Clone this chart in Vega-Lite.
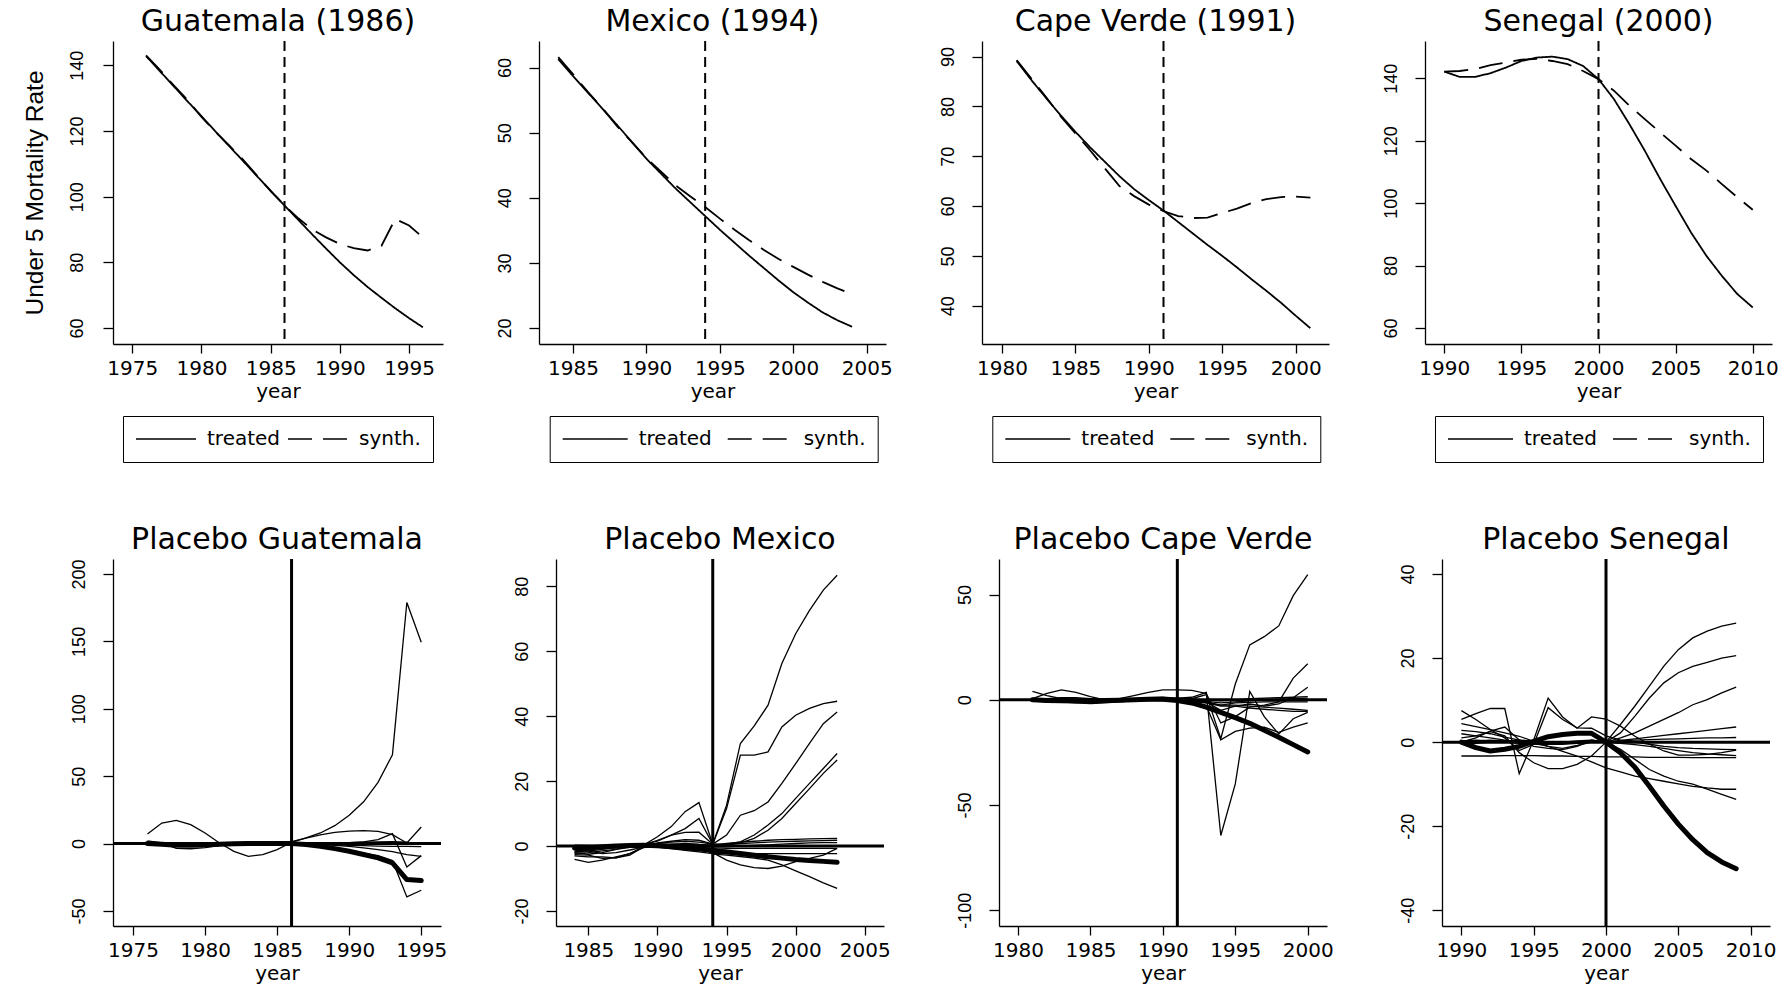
{
  "$schema": "https://vega.github.io/schema/vega-lite/v6.json",
  "background": "white",
  "padding": {"left": 19, "top": 7, "right": 5, "bottom": 2},
  "spacing": 61,
  "config": {
    "font": "DejaVu Sans",
    "view": {"stroke": null},
    "axis": {"grid": false, "domainColor": "black", "domainWidth": 1.3, "tickColor": "black", "tickWidth": 1.3, "labelColor": "black", "titleColor": "black", "titleFontWeight": "normal", "labelFlush": false, "labelOverlap": false},
    "axisX": {"tickSize": 9, "labelPadding": 5.5, "titlePadding": 3, "labelFont": "DejaVu Sans", "labelFontSize": 20, "titleFont": "DejaVu Sans", "titleFontSize": 20},
    "axisY": {"tickSize": 10, "labelPadding": 15, "labelAngle": -90, "labelAlign": "center", "labelBaseline": "bottom", "labelFont": "Liberation Sans", "labelFontSize": 18, "titleFont": "Liberation Sans", "titleFontSize": 24.5, "titlePadding": 21},
    "title": {"font": "DejaVu Sans", "fontSize": 30, "fontWeight": "normal", "color": "black", "offset": 3, "anchor": "middle"},
    "legend": {"orient": "none", "direction": "horizontal", "symbolType": "stroke", "symbolSize": 4225, "symbolStrokeWidth": 1.6, "symbolStrokeColor": "black", "clipHeight": 22, "labelFont": "DejaVu Sans", "labelFontSize": 20, "labelColor": "black", "labelOffset": 10, "columnPadding": 14, "padding": 12, "strokeColor": "black"}
  },
  "datasets": {
    "top_gt": [
      {"series":"treated","year":1976,"value":142.8},{"series":"treated","year":1977,"value":138.2},{"series":"treated","year":1978,"value":133.6},{"series":"treated","year":1979,"value":129.0},{"series":"treated","year":1980,"value":124.5},{"series":"treated","year":1981,"value":119.9},{"series":"treated","year":1982,"value":115.4},{"series":"treated","year":1983,"value":110.9},{"series":"treated","year":1984,"value":106.3},{"series":"treated","year":1985,"value":101.8},{"series":"treated","year":1986,"value":97.3},{"series":"treated","year":1987,"value":92.9},{"series":"treated","year":1988,"value":88.5},{"series":"treated","year":1989,"value":84.2},{"series":"treated","year":1990,"value":80.0},{"series":"treated","year":1991,"value":76.1},{"series":"treated","year":1992,"value":72.5},{"series":"treated","year":1993,"value":69.2},{"series":"treated","year":1994,"value":66.0},{"series":"treated","year":1995,"value":63.0},{"series":"treated","year":1996,"value":60.2},
      {"series":"synth.","year":1976,"value":143.0},{"series":"synth.","year":1977,"value":138.6},{"series":"synth.","year":1978,"value":133.9},{"series":"synth.","year":1979,"value":129.4},{"series":"synth.","year":1980,"value":124.3},{"series":"synth.","year":1981,"value":119.8},{"series":"synth.","year":1982,"value":115.6},{"series":"synth.","year":1983,"value":111.3},{"series":"synth.","year":1984,"value":106.5},{"series":"synth.","year":1985,"value":101.7},{"series":"synth.","year":1986,"value":97.3},{"series":"synth.","year":1987,"value":93.4},{"series":"synth.","year":1988,"value":90.0},{"series":"synth.","year":1989,"value":87.6},{"series":"synth.","year":1990,"value":85.6},{"series":"synth.","year":1991,"value":84.3},{"series":"synth.","year":1992,"value":83.6},{"series":"synth.","year":1993,"value":85.0},{"series":"synth.","year":1994,"value":93.2},{"series":"synth.","year":1995,"value":91.2},{"series":"synth.","year":1996,"value":87.6}
    ],
    "top_mx": [
      {"series":"treated","year":1984,"value":61.3},{"series":"treated","year":1985,"value":58.7},{"series":"treated","year":1986,"value":56.2},{"series":"treated","year":1987,"value":53.7},{"series":"treated","year":1988,"value":51.2},{"series":"treated","year":1989,"value":48.6},{"series":"treated","year":1990,"value":46.0},{"series":"treated","year":1991,"value":43.7},{"series":"treated","year":1992,"value":41.4},{"series":"treated","year":1993,"value":39.3},{"series":"treated","year":1994,"value":37.2},{"series":"treated","year":1995,"value":35.1},{"series":"treated","year":1996,"value":33.1},{"series":"treated","year":1997,"value":31.1},{"series":"treated","year":1998,"value":29.2},{"series":"treated","year":1999,"value":27.3},{"series":"treated","year":2000,"value":25.5},{"series":"treated","year":2001,"value":23.9},{"series":"treated","year":2002,"value":22.4},{"series":"treated","year":2003,"value":21.2},{"series":"treated","year":2004,"value":20.2},
      {"series":"synth.","year":1984,"value":61.6},{"series":"synth.","year":1985,"value":59.0},{"series":"synth.","year":1986,"value":56.3},{"series":"synth.","year":1987,"value":53.8},{"series":"synth.","year":1988,"value":51.0},{"series":"synth.","year":1989,"value":48.6},{"series":"synth.","year":1990,"value":46.1},{"series":"synth.","year":1991,"value":44.0},{"series":"synth.","year":1992,"value":41.9},{"series":"synth.","year":1993,"value":40.2},{"series":"synth.","year":1994,"value":38.6},{"series":"synth.","year":1995,"value":36.8},{"series":"synth.","year":1996,"value":35.1},{"series":"synth.","year":1997,"value":33.5},{"series":"synth.","year":1998,"value":32.0},{"series":"synth.","year":1999,"value":30.6},{"series":"synth.","year":2000,"value":29.4},{"series":"synth.","year":2001,"value":28.2},{"series":"synth.","year":2002,"value":27.1},{"series":"synth.","year":2003,"value":26.1},{"series":"synth.","year":2004,"value":25.2}
    ],
    "top_cv": [
      {"series":"treated","year":1981,"value":89.1},{"series":"treated","year":1982,"value":85.3},{"series":"treated","year":1983,"value":81.7},{"series":"treated","year":1984,"value":78.2},{"series":"treated","year":1985,"value":74.9},{"series":"treated","year":1986,"value":71.8},{"series":"treated","year":1987,"value":68.9},{"series":"treated","year":1988,"value":66.0},{"series":"treated","year":1989,"value":63.4},{"series":"treated","year":1990,"value":61.2},{"series":"treated","year":1991,"value":59.1},{"series":"treated","year":1992,"value":56.8},{"series":"treated","year":1993,"value":54.5},{"series":"treated","year":1994,"value":52.2},{"series":"treated","year":1995,"value":50.0},{"series":"treated","year":1996,"value":47.7},{"series":"treated","year":1997,"value":45.3},{"series":"treated","year":1998,"value":43.0},{"series":"treated","year":1999,"value":40.6},{"series":"treated","year":2000,"value":38.0},{"series":"treated","year":2001,"value":35.5},
      {"series":"synth.","year":1981,"value":89.3},{"series":"synth.","year":1982,"value":85.6},{"series":"synth.","year":1983,"value":81.9},{"series":"synth.","year":1984,"value":78.0},{"series":"synth.","year":1985,"value":74.6},{"series":"synth.","year":1986,"value":71.2},{"series":"synth.","year":1987,"value":67.6},{"series":"synth.","year":1988,"value":64.0},{"series":"synth.","year":1989,"value":62.0},{"series":"synth.","year":1990,"value":60.3},{"series":"synth.","year":1991,"value":59.0},{"series":"synth.","year":1992,"value":58.0},{"series":"synth.","year":1993,"value":57.6},{"series":"synth.","year":1994,"value":57.7},{"series":"synth.","year":1995,"value":58.6},{"series":"synth.","year":1996,"value":59.5},{"series":"synth.","year":1997,"value":60.6},{"series":"synth.","year":1998,"value":61.4},{"series":"synth.","year":1999,"value":61.8},{"series":"synth.","year":2000,"value":61.9},{"series":"synth.","year":2001,"value":61.7}
    ],
    "top_sn": [
      {"series":"treated","year":1990,"value":142.1},{"series":"treated","year":1991,"value":140.4},{"series":"treated","year":1992,"value":140.4},{"series":"treated","year":1993,"value":141.6},{"series":"treated","year":1994,"value":143.4},{"series":"treated","year":1995,"value":145.5},{"series":"treated","year":1996,"value":146.6},{"series":"treated","year":1997,"value":146.9},{"series":"treated","year":1998,"value":146.1},{"series":"treated","year":1999,"value":143.9},{"series":"treated","year":2000,"value":139.7},{"series":"treated","year":2001,"value":133.3},{"series":"treated","year":2002,"value":125.3},{"series":"treated","year":2003,"value":116.8},{"series":"treated","year":2004,"value":107.7},{"series":"treated","year":2005,"value":99.1},{"series":"treated","year":2006,"value":90.6},{"series":"treated","year":2007,"value":83.1},{"series":"treated","year":2008,"value":76.7},{"series":"treated","year":2009,"value":70.9},{"series":"treated","year":2010,"value":66.6},
      {"series":"synth.","year":1990,"value":142.1},{"series":"synth.","year":1991,"value":142.3},{"series":"synth.","year":1992,"value":142.9},{"series":"synth.","year":1993,"value":144.2},{"series":"synth.","year":1994,"value":145.0},{"series":"synth.","year":1995,"value":145.9},{"series":"synth.","year":1996,"value":146.2},{"series":"synth.","year":1997,"value":145.5},{"series":"synth.","year":1998,"value":144.5},{"series":"synth.","year":1999,"value":142.3},{"series":"synth.","year":2000,"value":139.7},{"series":"synth.","year":2001,"value":136.0},{"series":"synth.","year":2002,"value":131.2},{"series":"synth.","year":2003,"value":126.9},{"series":"synth.","year":2004,"value":122.6},{"series":"synth.","year":2005,"value":118.4},{"series":"synth.","year":2006,"value":114.1},{"series":"synth.","year":2007,"value":110.4},{"series":"synth.","year":2008,"value":106.1},{"series":"synth.","year":2009,"value":101.9},{"series":"synth.","year":2010,"value":97.9}
    ],
    "pl_gt": [
      {"unit":"T","year":1976,"gap":0},{"unit":"T","year":1977,"gap":-0.5},{"unit":"T","year":1978,"gap":-1.2},{"unit":"T","year":1979,"gap":-1.2},{"unit":"T","year":1980,"gap":-0.8},{"unit":"T","year":1981,"gap":-0.4},{"unit":"T","year":1982,"gap":-0.1},{"unit":"T","year":1983,"gap":0},{"unit":"T","year":1984,"gap":0},{"unit":"T","year":1985,"gap":0},{"unit":"T","year":1986,"gap":0},{"unit":"T","year":1987,"gap":-0.7},{"unit":"T","year":1988,"gap":-2.0},{"unit":"T","year":1989,"gap":-3.7},{"unit":"T","year":1990,"gap":-5.7},{"unit":"T","year":1991,"gap":-8.1},{"unit":"T","year":1992,"gap":-10.6},{"unit":"T","year":1993,"gap":-14.3},{"unit":"T","year":1994,"gap":-26.7},{"unit":"T","year":1995,"gap":-27.4},
      {"unit":"a","year":1976,"gap":7.2},{"unit":"a","year":1977,"gap":15.3},{"unit":"a","year":1978,"gap":17.3},{"unit":"a","year":1979,"gap":14.1},{"unit":"a","year":1980,"gap":7.9},{"unit":"a","year":1981,"gap":0.5},{"unit":"a","year":1982,"gap":-5.7},{"unit":"a","year":1983,"gap":-9.4},{"unit":"a","year":1984,"gap":-8.1},{"unit":"a","year":1985,"gap":-4.4},{"unit":"a","year":1986,"gap":1.0},{"unit":"a","year":1987,"gap":4.2},{"unit":"a","year":1988,"gap":7.9},{"unit":"a","year":1989,"gap":13.3},{"unit":"a","year":1990,"gap":21.0},{"unit":"a","year":1991,"gap":31.0},{"unit":"a","year":1992,"gap":45.4},{"unit":"a","year":1993,"gap":65.9},{"unit":"a","year":1994,"gap":178.8},{"unit":"a","year":1995,"gap":149.4},
      {"unit":"b","year":1976,"gap":2.0},{"unit":"b","year":1977,"gap":0.5},{"unit":"b","year":1978,"gap":-3.5},{"unit":"b","year":1979,"gap":-3.8},{"unit":"b","year":1980,"gap":-3.0},{"unit":"b","year":1981,"gap":-1.5},{"unit":"b","year":1982,"gap":-0.5},{"unit":"b","year":1983,"gap":0},{"unit":"b","year":1984,"gap":0.3},{"unit":"b","year":1985,"gap":0.5},{"unit":"b","year":1986,"gap":1.5},{"unit":"b","year":1987,"gap":4.0},{"unit":"b","year":1988,"gap":6.5},{"unit":"b","year":1989,"gap":8.4},{"unit":"b","year":1990,"gap":9.3},{"unit":"b","year":1991,"gap":9.6},{"unit":"b","year":1992,"gap":9.1},{"unit":"b","year":1993,"gap":6.7},{"unit":"b","year":1994,"gap":0.5},{"unit":"b","year":1995,"gap":12.3},
      {"unit":"c","year":1976,"gap":1.0},{"unit":"c","year":1977,"gap":0.3},{"unit":"c","year":1978,"gap":-0.5},{"unit":"c","year":1979,"gap":-0.8},{"unit":"c","year":1980,"gap":-0.5},{"unit":"c","year":1981,"gap":0},{"unit":"c","year":1982,"gap":0.3},{"unit":"c","year":1983,"gap":0.5},{"unit":"c","year":1984,"gap":0.5},{"unit":"c","year":1985,"gap":0.3},{"unit":"c","year":1986,"gap":0.2},{"unit":"c","year":1987,"gap":0.3},{"unit":"c","year":1988,"gap":0.5},{"unit":"c","year":1989,"gap":0.5},{"unit":"c","year":1990,"gap":0.7},{"unit":"c","year":1991,"gap":1.3},{"unit":"c","year":1992,"gap":3.0},{"unit":"c","year":1993,"gap":7.4},{"unit":"c","year":1994,"gap":-17.3},{"unit":"c","year":1995,"gap":-8.9},
      {"unit":"d","year":1976,"gap":-0.5},{"unit":"d","year":1977,"gap":-1.0},{"unit":"d","year":1978,"gap":-1.5},{"unit":"d","year":1979,"gap":-1.0},{"unit":"d","year":1980,"gap":-0.5},{"unit":"d","year":1981,"gap":0},{"unit":"d","year":1982,"gap":0.2},{"unit":"d","year":1983,"gap":0.3},{"unit":"d","year":1984,"gap":0.2},{"unit":"d","year":1985,"gap":0},{"unit":"d","year":1986,"gap":-0.2},{"unit":"d","year":1987,"gap":-0.8},{"unit":"d","year":1988,"gap":-1.8},{"unit":"d","year":1989,"gap":-3.5},{"unit":"d","year":1990,"gap":-5.0},{"unit":"d","year":1991,"gap":-7.0},{"unit":"d","year":1992,"gap":-9.0},{"unit":"d","year":1993,"gap":-12.5},{"unit":"d","year":1994,"gap":-39.5},{"unit":"d","year":1995,"gap":-34.6},
      {"unit":"e","year":1976,"gap":0.5},{"unit":"e","year":1977,"gap":0},{"unit":"e","year":1978,"gap":-0.5},{"unit":"e","year":1979,"gap":-0.5},{"unit":"e","year":1980,"gap":-0.3},{"unit":"e","year":1981,"gap":0},{"unit":"e","year":1982,"gap":0.3},{"unit":"e","year":1983,"gap":0.5},{"unit":"e","year":1984,"gap":0.5},{"unit":"e","year":1985,"gap":0.3},{"unit":"e","year":1986,"gap":0.2},{"unit":"e","year":1987,"gap":0},{"unit":"e","year":1988,"gap":-0.5},{"unit":"e","year":1989,"gap":-1.2},{"unit":"e","year":1990,"gap":-2.0},{"unit":"e","year":1991,"gap":-3.2},{"unit":"e","year":1992,"gap":-4.4},{"unit":"e","year":1993,"gap":-6.0},{"unit":"e","year":1994,"gap":-8.1},{"unit":"e","year":1995,"gap":-9.4},
      {"unit":"f","year":1976,"gap":0},{"unit":"f","year":1977,"gap":0},{"unit":"f","year":1978,"gap":0.3},{"unit":"f","year":1979,"gap":0.5},{"unit":"f","year":1980,"gap":0.5},{"unit":"f","year":1981,"gap":0.3},{"unit":"f","year":1982,"gap":0},{"unit":"f","year":1983,"gap":-0.3},{"unit":"f","year":1984,"gap":-0.5},{"unit":"f","year":1985,"gap":-0.5},{"unit":"f","year":1986,"gap":-0.3},{"unit":"f","year":1987,"gap":0},{"unit":"f","year":1988,"gap":0.3},{"unit":"f","year":1989,"gap":0.5},{"unit":"f","year":1990,"gap":0.8},{"unit":"f","year":1991,"gap":1.0},{"unit":"f","year":1992,"gap":1.3},{"unit":"f","year":1993,"gap":1.5},{"unit":"f","year":1994,"gap":1.0},{"unit":"f","year":1995,"gap":-0.5},
      {"unit":"g","year":1976,"gap":-0.3},{"unit":"g","year":1977,"gap":-0.5},{"unit":"g","year":1978,"gap":-0.3},{"unit":"g","year":1979,"gap":0},{"unit":"g","year":1980,"gap":0.3},{"unit":"g","year":1981,"gap":0.5},{"unit":"g","year":1982,"gap":0.5},{"unit":"g","year":1983,"gap":0.3},{"unit":"g","year":1984,"gap":0},{"unit":"g","year":1985,"gap":-0.2},{"unit":"g","year":1986,"gap":-0.3},{"unit":"g","year":1987,"gap":-0.5},{"unit":"g","year":1988,"gap":-0.8},{"unit":"g","year":1989,"gap":-1.0},{"unit":"g","year":1990,"gap":-1.2},{"unit":"g","year":1991,"gap":-1.5},{"unit":"g","year":1992,"gap":-1.8},{"unit":"g","year":1993,"gap":-2.0},{"unit":"g","year":1994,"gap":-2.0},{"unit":"g","year":1995,"gap":-2.2}
    ],
    "pl_mx": [
      {"unit":"T","year":1984,"gap":-0.6},{"unit":"T","year":1985,"gap":-0.4},{"unit":"T","year":1986,"gap":-0.2},{"unit":"T","year":1987,"gap":0},{"unit":"T","year":1988,"gap":0.2},{"unit":"T","year":1989,"gap":0.3},{"unit":"T","year":1990,"gap":0.1},{"unit":"T","year":1991,"gap":-0.2},{"unit":"T","year":1992,"gap":-0.5},{"unit":"T","year":1993,"gap":-0.9},{"unit":"T","year":1994,"gap":-1.3},{"unit":"T","year":1995,"gap":-1.8},{"unit":"T","year":1996,"gap":-2.3},{"unit":"T","year":1997,"gap":-2.8},{"unit":"T","year":1998,"gap":-3.3},{"unit":"T","year":1999,"gap":-3.7},{"unit":"T","year":2000,"gap":-4.1},{"unit":"T","year":2001,"gap":-4.4},{"unit":"T","year":2002,"gap":-4.7},{"unit":"T","year":2003,"gap":-5.0},
      {"unit":"a","year":1984,"gap":-1.0},{"unit":"a","year":1985,"gap":-1.5},{"unit":"a","year":1986,"gap":-1.0},{"unit":"a","year":1987,"gap":-0.5},{"unit":"a","year":1988,"gap":0},{"unit":"a","year":1989,"gap":0.3},{"unit":"a","year":1990,"gap":2.9},{"unit":"a","year":1991,"gap":6.0},{"unit":"a","year":1992,"gap":10.6},{"unit":"a","year":1993,"gap":13.4},{"unit":"a","year":1994,"gap":0.6},{"unit":"a","year":1995,"gap":12.6},{"unit":"a","year":1996,"gap":31.6},{"unit":"a","year":1997,"gap":37.0},{"unit":"a","year":1998,"gap":43.4},{"unit":"a","year":1999,"gap":56.2},{"unit":"a","year":2000,"gap":65.4},{"unit":"a","year":2001,"gap":72.6},{"unit":"a","year":2002,"gap":78.8},{"unit":"a","year":2003,"gap":83.4},
      {"unit":"b","year":1984,"gap":-2.0},{"unit":"b","year":1985,"gap":-2.5},{"unit":"b","year":1986,"gap":-2.0},{"unit":"b","year":1987,"gap":-1.0},{"unit":"b","year":1988,"gap":0},{"unit":"b","year":1989,"gap":0.3},{"unit":"b","year":1990,"gap":1.8},{"unit":"b","year":1991,"gap":3.4},{"unit":"b","year":1992,"gap":5.4},{"unit":"b","year":1993,"gap":8.5},{"unit":"b","year":1994,"gap":0.6},{"unit":"b","year":1995,"gap":11.6},{"unit":"b","year":1996,"gap":28.0},{"unit":"b","year":1997,"gap":28.0},{"unit":"b","year":1998,"gap":29.0},{"unit":"b","year":1999,"gap":36.7},{"unit":"b","year":2000,"gap":40.3},{"unit":"b","year":2001,"gap":42.4},{"unit":"b","year":2002,"gap":43.9},{"unit":"b","year":2003,"gap":44.6},
      {"unit":"c","year":1984,"gap":-1.5},{"unit":"c","year":1985,"gap":-1.0},{"unit":"c","year":1986,"gap":-0.5},{"unit":"c","year":1987,"gap":0},{"unit":"c","year":1988,"gap":0.3},{"unit":"c","year":1989,"gap":0.5},{"unit":"c","year":1990,"gap":1.5},{"unit":"c","year":1991,"gap":3.4},{"unit":"c","year":1992,"gap":4.2},{"unit":"c","year":1993,"gap":4.3},{"unit":"c","year":1994,"gap":0.6},{"unit":"c","year":1995,"gap":3.4},{"unit":"c","year":1996,"gap":9.5},{"unit":"c","year":1997,"gap":10.9},{"unit":"c","year":1998,"gap":13.6},{"unit":"c","year":1999,"gap":19.3},{"unit":"c","year":2000,"gap":25.4},{"unit":"c","year":2001,"gap":31.6},{"unit":"c","year":2002,"gap":37.7},{"unit":"c","year":2003,"gap":41.3},
      {"unit":"d","year":1984,"gap":-2.6},{"unit":"d","year":1985,"gap":-2.8},{"unit":"d","year":1986,"gap":-3.8},{"unit":"d","year":1987,"gap":-3.6},{"unit":"d","year":1988,"gap":-2.8},{"unit":"d","year":1989,"gap":-0.2},{"unit":"d","year":1990,"gap":1.0},{"unit":"d","year":1991,"gap":1.5},{"unit":"d","year":1992,"gap":2.0},{"unit":"d","year":1993,"gap":1.8},{"unit":"d","year":1994,"gap":0.6},{"unit":"d","year":1995,"gap":0.6},{"unit":"d","year":1996,"gap":1.3},{"unit":"d","year":1997,"gap":3.4},{"unit":"d","year":1998,"gap":6.5},{"unit":"d","year":1999,"gap":10.0},{"unit":"d","year":2000,"gap":14.7},{"unit":"d","year":2001,"gap":19.3},{"unit":"d","year":2002,"gap":23.9},{"unit":"d","year":2003,"gap":28.5},
      {"unit":"e","year":1984,"gap":-4.1},{"unit":"e","year":1985,"gap":-5.0},{"unit":"e","year":1986,"gap":-4.3},{"unit":"e","year":1987,"gap":-3.3},{"unit":"e","year":1988,"gap":-2.3},{"unit":"e","year":1989,"gap":-0.2},{"unit":"e","year":1990,"gap":0.8},{"unit":"e","year":1991,"gap":1.2},{"unit":"e","year":1992,"gap":1.5},{"unit":"e","year":1993,"gap":1.2},{"unit":"e","year":1994,"gap":0.6},{"unit":"e","year":1995,"gap":0.3},{"unit":"e","year":1996,"gap":1.0},{"unit":"e","year":1997,"gap":2.4},{"unit":"e","year":1998,"gap":4.9},{"unit":"e","year":1999,"gap":8.5},{"unit":"e","year":2000,"gap":13.1},{"unit":"e","year":2001,"gap":17.7},{"unit":"e","year":2002,"gap":22.4},{"unit":"e","year":2003,"gap":26.5},
      {"unit":"f","year":1984,"gap":-1.7},{"unit":"f","year":1985,"gap":-1.5},{"unit":"f","year":1986,"gap":-2.3},{"unit":"f","year":1987,"gap":-2.0},{"unit":"f","year":1988,"gap":-1.2},{"unit":"f","year":1989,"gap":-0.3},{"unit":"f","year":1990,"gap":0.5},{"unit":"f","year":1991,"gap":0.5},{"unit":"f","year":1992,"gap":0.3},{"unit":"f","year":1993,"gap":0},{"unit":"f","year":1994,"gap":-2.5},{"unit":"f","year":1995,"gap":-2.8},{"unit":"f","year":1996,"gap":-3.2},{"unit":"f","year":1997,"gap":-3.7},{"unit":"f","year":1998,"gap":-4.3},{"unit":"f","year":1999,"gap":-5.8},{"unit":"f","year":2000,"gap":-7.6},{"unit":"f","year":2001,"gap":-9.4},{"unit":"f","year":2002,"gap":-11.3},{"unit":"f","year":2003,"gap":-13.0},
      {"unit":"g","year":1984,"gap":-3.0},{"unit":"g","year":1985,"gap":-3.3},{"unit":"g","year":1986,"gap":-3.3},{"unit":"g","year":1987,"gap":-3.6},{"unit":"g","year":1988,"gap":-2.3},{"unit":"g","year":1989,"gap":-0.5},{"unit":"g","year":1990,"gap":0},{"unit":"g","year":1991,"gap":0.3},{"unit":"g","year":1992,"gap":0.5},{"unit":"g","year":1993,"gap":0.2},{"unit":"g","year":1994,"gap":-2.0},{"unit":"g","year":1995,"gap":-4.3},{"unit":"g","year":1996,"gap":-5.8},{"unit":"g","year":1997,"gap":-6.6},{"unit":"g","year":1998,"gap":-6.9},{"unit":"g","year":1999,"gap":-6.2},{"unit":"g","year":2000,"gap":-4.8},{"unit":"g","year":2001,"gap":-3.8},{"unit":"g","year":2002,"gap":-2.8},{"unit":"g","year":2003,"gap":-0.7},
      {"unit":"h","year":1984,"gap":0},{"unit":"h","year":1985,"gap":-0.3},{"unit":"h","year":1986,"gap":-0.5},{"unit":"h","year":1987,"gap":-0.3},{"unit":"h","year":1988,"gap":0},{"unit":"h","year":1989,"gap":0.2},{"unit":"h","year":1990,"gap":0.3},{"unit":"h","year":1991,"gap":0.5},{"unit":"h","year":1992,"gap":0.8},{"unit":"h","year":1993,"gap":0.5},{"unit":"h","year":1994,"gap":0.3},{"unit":"h","year":1995,"gap":0.8},{"unit":"h","year":1996,"gap":1.2},{"unit":"h","year":1997,"gap":1.5},{"unit":"h","year":1998,"gap":1.8},{"unit":"h","year":1999,"gap":2.0},{"unit":"h","year":2000,"gap":2.1},{"unit":"h","year":2001,"gap":2.2},{"unit":"h","year":2002,"gap":2.3},{"unit":"h","year":2003,"gap":2.4},
      {"unit":"i","year":1984,"gap":-0.5},{"unit":"i","year":1985,"gap":-0.8},{"unit":"i","year":1986,"gap":-0.5},{"unit":"i","year":1987,"gap":0},{"unit":"i","year":1988,"gap":0.3},{"unit":"i","year":1989,"gap":0.2},{"unit":"i","year":1990,"gap":0.5},{"unit":"i","year":1991,"gap":0.6},{"unit":"i","year":1992,"gap":0.6},{"unit":"i","year":1993,"gap":0.5},{"unit":"i","year":1994,"gap":0.2},{"unit":"i","year":1995,"gap":0.5},{"unit":"i","year":1996,"gap":0.8},{"unit":"i","year":1997,"gap":1.0},{"unit":"i","year":1998,"gap":1.2},{"unit":"i","year":1999,"gap":1.4},{"unit":"i","year":2000,"gap":1.5},{"unit":"i","year":2001,"gap":1.6},{"unit":"i","year":2002,"gap":1.7},{"unit":"i","year":2003,"gap":1.8},
      {"unit":"j","year":1984,"gap":-0.8},{"unit":"j","year":1985,"gap":-1.0},{"unit":"j","year":1986,"gap":-0.8},{"unit":"j","year":1987,"gap":-0.5},{"unit":"j","year":1988,"gap":0},{"unit":"j","year":1989,"gap":0.3},{"unit":"j","year":1990,"gap":0},{"unit":"j","year":1991,"gap":-0.3},{"unit":"j","year":1992,"gap":-0.5},{"unit":"j","year":1993,"gap":-0.8},{"unit":"j","year":1994,"gap":-1.0},{"unit":"j","year":1995,"gap":-0.8},{"unit":"j","year":1996,"gap":-0.7},{"unit":"j","year":1997,"gap":-0.7},{"unit":"j","year":1998,"gap":-0.7},{"unit":"j","year":1999,"gap":-0.7},{"unit":"j","year":2000,"gap":-0.7},{"unit":"j","year":2001,"gap":-0.7},{"unit":"j","year":2002,"gap":-0.7},{"unit":"j","year":2003,"gap":-0.7},
      {"unit":"k","year":1984,"gap":-2.2},{"unit":"k","year":1985,"gap":-2.0},{"unit":"k","year":1986,"gap":-1.5},{"unit":"k","year":1987,"gap":-1.0},{"unit":"k","year":1988,"gap":-0.4},{"unit":"k","year":1989,"gap":0.1},{"unit":"k","year":1990,"gap":-0.3},{"unit":"k","year":1991,"gap":-0.8},{"unit":"k","year":1992,"gap":-1.3},{"unit":"k","year":1993,"gap":-1.8},{"unit":"k","year":1994,"gap":-2.3},{"unit":"k","year":1995,"gap":-2.3},{"unit":"k","year":1996,"gap":-2.3},{"unit":"k","year":1997,"gap":-2.3},{"unit":"k","year":1998,"gap":-2.3},{"unit":"k","year":1999,"gap":-2.3},{"unit":"k","year":2000,"gap":-2.3},{"unit":"k","year":2001,"gap":-2.3},{"unit":"k","year":2002,"gap":-2.3},{"unit":"k","year":2003,"gap":-2.3},
      {"unit":"l","year":1984,"gap":0.3},{"unit":"l","year":1985,"gap":0.2},{"unit":"l","year":1986,"gap":0},{"unit":"l","year":1987,"gap":0},{"unit":"l","year":1988,"gap":0.2},{"unit":"l","year":1989,"gap":0.3},{"unit":"l","year":1990,"gap":0.2},{"unit":"l","year":1991,"gap":0.1},{"unit":"l","year":1992,"gap":0},{"unit":"l","year":1993,"gap":-0.2},{"unit":"l","year":1994,"gap":-0.3},{"unit":"l","year":1995,"gap":-0.2},{"unit":"l","year":1996,"gap":0},{"unit":"l","year":1997,"gap":0.2},{"unit":"l","year":1998,"gap":0.4},{"unit":"l","year":1999,"gap":0.6},{"unit":"l","year":2000,"gap":0.8},{"unit":"l","year":2001,"gap":1.0},{"unit":"l","year":2002,"gap":1.1},{"unit":"l","year":2003,"gap":1.1}
    ],
    "pl_cv": [
      {"unit":"T","year":1981,"gap":0},{"unit":"T","year":1982,"gap":-0.3},{"unit":"T","year":1983,"gap":-0.5},{"unit":"T","year":1984,"gap":-0.6},{"unit":"T","year":1985,"gap":-0.6},{"unit":"T","year":1986,"gap":-0.4},{"unit":"T","year":1987,"gap":-0.2},{"unit":"T","year":1988,"gap":0},{"unit":"T","year":1989,"gap":0.2},{"unit":"T","year":1990,"gap":0.3},{"unit":"T","year":1991,"gap":-0.3},{"unit":"T","year":1992,"gap":-1.5},{"unit":"T","year":1993,"gap":-3.5},{"unit":"T","year":1994,"gap":-6.0},{"unit":"T","year":1995,"gap":-8.5},{"unit":"T","year":1996,"gap":-11.2},{"unit":"T","year":1997,"gap":-14.5},{"unit":"T","year":1998,"gap":-17.8},{"unit":"T","year":1999,"gap":-21.3},{"unit":"T","year":2000,"gap":-24.8},
      {"unit":"a","year":1981,"gap":4.0},{"unit":"a","year":1982,"gap":2.0},{"unit":"a","year":1983,"gap":0.5},{"unit":"a","year":1984,"gap":-0.5},{"unit":"a","year":1985,"gap":-1.0},{"unit":"a","year":1986,"gap":-0.5},{"unit":"a","year":1987,"gap":0},{"unit":"a","year":1988,"gap":0.5},{"unit":"a","year":1989,"gap":1.0},{"unit":"a","year":1990,"gap":1.2},{"unit":"a","year":1991,"gap":0.8},{"unit":"a","year":1992,"gap":0.5},{"unit":"a","year":1993,"gap":2.5},{"unit":"a","year":1994,"gap":-18.5},{"unit":"a","year":1995,"gap":7.5},{"unit":"a","year":1996,"gap":26.1},{"unit":"a","year":1997,"gap":30.0},{"unit":"a","year":1998,"gap":35.1},{"unit":"a","year":1999,"gap":49.5},{"unit":"a","year":2000,"gap":59.5},
      {"unit":"b","year":1981,"gap":0},{"unit":"b","year":1982,"gap":-0.5},{"unit":"b","year":1983,"gap":-1.0},{"unit":"b","year":1984,"gap":-1.5},{"unit":"b","year":1985,"gap":-1.8},{"unit":"b","year":1986,"gap":-1.5},{"unit":"b","year":1987,"gap":-1.0},{"unit":"b","year":1988,"gap":-0.5},{"unit":"b","year":1989,"gap":0},{"unit":"b","year":1990,"gap":0.5},{"unit":"b","year":1991,"gap":0.8},{"unit":"b","year":1992,"gap":1.2},{"unit":"b","year":1993,"gap":3.5},{"unit":"b","year":1994,"gap":-64.5},{"unit":"b","year":1995,"gap":-40.0},{"unit":"b","year":1996,"gap":4.0},{"unit":"b","year":1997,"gap":-8.0},{"unit":"b","year":1998,"gap":-16.3},{"unit":"b","year":1999,"gap":-9.0},{"unit":"b","year":2000,"gap":-6.0},
      {"unit":"c","year":1981,"gap":0.5},{"unit":"c","year":1982,"gap":3.0},{"unit":"c","year":1983,"gap":4.7},{"unit":"c","year":1984,"gap":3.5},{"unit":"c","year":1985,"gap":1.5},{"unit":"c","year":1986,"gap":0},{"unit":"c","year":1987,"gap":0.5},{"unit":"c","year":1988,"gap":2.0},{"unit":"c","year":1989,"gap":3.5},{"unit":"c","year":1990,"gap":4.7},{"unit":"c","year":1991,"gap":4.7},{"unit":"c","year":1992,"gap":4.5},{"unit":"c","year":1993,"gap":3.0},{"unit":"c","year":1994,"gap":-11.0},{"unit":"c","year":1995,"gap":-8.0},{"unit":"c","year":1996,"gap":-3.5},{"unit":"c","year":1997,"gap":-2.5},{"unit":"c","year":1998,"gap":-1.0},{"unit":"c","year":1999,"gap":10.3},{"unit":"c","year":2000,"gap":17.1},
      {"unit":"d","year":1981,"gap":-0.5},{"unit":"d","year":1982,"gap":-1.0},{"unit":"d","year":1983,"gap":-1.2},{"unit":"d","year":1984,"gap":-1.2},{"unit":"d","year":1985,"gap":-1.2},{"unit":"d","year":1986,"gap":-0.8},{"unit":"d","year":1987,"gap":-0.3},{"unit":"d","year":1988,"gap":0},{"unit":"d","year":1989,"gap":0.3},{"unit":"d","year":1990,"gap":0.5},{"unit":"d","year":1991,"gap":0.3},{"unit":"d","year":1992,"gap":-0.5},{"unit":"d","year":1993,"gap":-1.0},{"unit":"d","year":1994,"gap":-5.0},{"unit":"d","year":1995,"gap":-3.0},{"unit":"d","year":1996,"gap":-2.0},{"unit":"d","year":1997,"gap":-3.0},{"unit":"d","year":1998,"gap":-2.0},{"unit":"d","year":1999,"gap":1.0},{"unit":"d","year":2000,"gap":6.0},
      {"unit":"e","year":1981,"gap":0},{"unit":"e","year":1982,"gap":0.5},{"unit":"e","year":1983,"gap":1.0},{"unit":"e","year":1984,"gap":1.0},{"unit":"e","year":1985,"gap":0.5},{"unit":"e","year":1986,"gap":0},{"unit":"e","year":1987,"gap":-0.3},{"unit":"e","year":1988,"gap":-0.5},{"unit":"e","year":1989,"gap":-0.3},{"unit":"e","year":1990,"gap":0},{"unit":"e","year":1991,"gap":0.2},{"unit":"e","year":1992,"gap":-1.0},{"unit":"e","year":1993,"gap":-3.0},{"unit":"e","year":1994,"gap":-19.0},{"unit":"e","year":1995,"gap":-15.0},{"unit":"e","year":1996,"gap":-13.5},{"unit":"e","year":1997,"gap":-13.0},{"unit":"e","year":1998,"gap":-15.5},{"unit":"e","year":1999,"gap":-13.0},{"unit":"e","year":2000,"gap":-11.0},
      {"unit":"f","year":1981,"gap":0.2},{"unit":"f","year":1982,"gap":0},{"unit":"f","year":1983,"gap":-0.3},{"unit":"f","year":1984,"gap":-0.5},{"unit":"f","year":1985,"gap":-0.3},{"unit":"f","year":1986,"gap":0},{"unit":"f","year":1987,"gap":0.3},{"unit":"f","year":1988,"gap":0.5},{"unit":"f","year":1989,"gap":0.5},{"unit":"f","year":1990,"gap":0.3},{"unit":"f","year":1991,"gap":0},{"unit":"f","year":1992,"gap":-0.5},{"unit":"f","year":1993,"gap":-1.5},{"unit":"f","year":1994,"gap":-3.0},{"unit":"f","year":1995,"gap":-3.0},{"unit":"f","year":1996,"gap":-4.0},{"unit":"f","year":1997,"gap":-4.5},{"unit":"f","year":1998,"gap":-5.0},{"unit":"f","year":1999,"gap":-5.5},{"unit":"f","year":2000,"gap":-5.5},
      {"unit":"g","year":1981,"gap":-0.3},{"unit":"g","year":1982,"gap":-0.5},{"unit":"g","year":1983,"gap":-0.5},{"unit":"g","year":1984,"gap":-0.3},{"unit":"g","year":1985,"gap":0},{"unit":"g","year":1986,"gap":0.3},{"unit":"g","year":1987,"gap":0.5},{"unit":"g","year":1988,"gap":0.3},{"unit":"g","year":1989,"gap":0},{"unit":"g","year":1990,"gap":-0.2},{"unit":"g","year":1991,"gap":-0.3},{"unit":"g","year":1992,"gap":-0.8},{"unit":"g","year":1993,"gap":-1.5},{"unit":"g","year":1994,"gap":-2.5},{"unit":"g","year":1995,"gap":-2.5},{"unit":"g","year":1996,"gap":-3.0},{"unit":"g","year":1997,"gap":-3.5},{"unit":"g","year":1998,"gap":-4.0},{"unit":"g","year":1999,"gap":-4.5},{"unit":"g","year":2000,"gap":-5.0},
      {"unit":"h","year":1981,"gap":0},{"unit":"h","year":1982,"gap":0.3},{"unit":"h","year":1983,"gap":0.5},{"unit":"h","year":1984,"gap":0.3},{"unit":"h","year":1985,"gap":0},{"unit":"h","year":1986,"gap":-0.2},{"unit":"h","year":1987,"gap":-0.3},{"unit":"h","year":1988,"gap":0},{"unit":"h","year":1989,"gap":0.3},{"unit":"h","year":1990,"gap":0.5},{"unit":"h","year":1991,"gap":0.5},{"unit":"h","year":1992,"gap":0.3},{"unit":"h","year":1993,"gap":0},{"unit":"h","year":1994,"gap":-0.5},{"unit":"h","year":1995,"gap":0},{"unit":"h","year":1996,"gap":0.5},{"unit":"h","year":1997,"gap":0.8},{"unit":"h","year":1998,"gap":1.0},{"unit":"h","year":1999,"gap":1.2},{"unit":"h","year":2000,"gap":1.5},
      {"unit":"i","year":1981,"gap":0.3},{"unit":"i","year":1982,"gap":0.2},{"unit":"i","year":1983,"gap":0},{"unit":"i","year":1984,"gap":-0.2},{"unit":"i","year":1985,"gap":-0.3},{"unit":"i","year":1986,"gap":-0.2},{"unit":"i","year":1987,"gap":0},{"unit":"i","year":1988,"gap":0.2},{"unit":"i","year":1989,"gap":0.3},{"unit":"i","year":1990,"gap":0.2},{"unit":"i","year":1991,"gap":0},{"unit":"i","year":1992,"gap":-0.3},{"unit":"i","year":1993,"gap":-0.8},{"unit":"i","year":1994,"gap":-1.5},{"unit":"i","year":1995,"gap":-1.0},{"unit":"i","year":1996,"gap":-0.5},{"unit":"i","year":1997,"gap":0},{"unit":"i","year":1998,"gap":0.3},{"unit":"i","year":1999,"gap":0.5},{"unit":"i","year":2000,"gap":0.8},
      {"unit":"j","year":1981,"gap":0.5},{"unit":"j","year":1982,"gap":0.5},{"unit":"j","year":1983,"gap":0.3},{"unit":"j","year":1984,"gap":0},{"unit":"j","year":1985,"gap":-0.3},{"unit":"j","year":1986,"gap":-0.5},{"unit":"j","year":1987,"gap":-0.3},{"unit":"j","year":1988,"gap":0},{"unit":"j","year":1989,"gap":0.3},{"unit":"j","year":1990,"gap":0.5},{"unit":"j","year":1991,"gap":0.3},{"unit":"j","year":1992,"gap":0},{"unit":"j","year":1993,"gap":-1.0},{"unit":"j","year":1994,"gap":-2.5},{"unit":"j","year":1995,"gap":-1.5},{"unit":"j","year":1996,"gap":-1.2},{"unit":"j","year":1997,"gap":-1.0},{"unit":"j","year":1998,"gap":-1.0},{"unit":"j","year":1999,"gap":-1.0},{"unit":"j","year":2000,"gap":-1.0}
    ],
    "pl_sn": [
      {"unit":"T","year":1990,"gap":0},{"unit":"T","year":1991,"gap":-1.3},{"unit":"T","year":1992,"gap":-2.1},{"unit":"T","year":1993,"gap":-1.7},{"unit":"T","year":1994,"gap":-1.0},{"unit":"T","year":1995,"gap":0.2},{"unit":"T","year":1996,"gap":1.3},{"unit":"T","year":1997,"gap":1.8},{"unit":"T","year":1998,"gap":2.1},{"unit":"T","year":1999,"gap":2.1},{"unit":"T","year":2000,"gap":0},{"unit":"T","year":2001,"gap":-2.5},{"unit":"T","year":2002,"gap":-6.0},{"unit":"T","year":2003,"gap":-10.5},{"unit":"T","year":2004,"gap":-15.2},{"unit":"T","year":2005,"gap":-19.5},{"unit":"T","year":2006,"gap":-23.2},{"unit":"T","year":2007,"gap":-26.3},{"unit":"T","year":2008,"gap":-28.5},{"unit":"T","year":2009,"gap":-30.1},
      {"unit":"a","year":1990,"gap":1.0},{"unit":"a","year":1991,"gap":1.5},{"unit":"a","year":1992,"gap":2.5},{"unit":"a","year":1993,"gap":1.5},{"unit":"a","year":1994,"gap":-2.5},{"unit":"a","year":1995,"gap":-4.9},{"unit":"a","year":1996,"gap":-6.3},{"unit":"a","year":1997,"gap":-6.3},{"unit":"a","year":1998,"gap":-5.3},{"unit":"a","year":1999,"gap":-3.3},{"unit":"a","year":2000,"gap":0},{"unit":"a","year":2001,"gap":4.2},{"unit":"a","year":2002,"gap":8.6},{"unit":"a","year":2003,"gap":13.3},{"unit":"a","year":2004,"gap":18.1},{"unit":"a","year":2005,"gap":22.0},{"unit":"a","year":2006,"gap":24.8},{"unit":"a","year":2007,"gap":26.4},{"unit":"a","year":2008,"gap":27.6},{"unit":"a","year":2009,"gap":28.3},
      {"unit":"b","year":1990,"gap":0},{"unit":"b","year":1991,"gap":0.3},{"unit":"b","year":1992,"gap":0.5},{"unit":"b","year":1993,"gap":0.3},{"unit":"b","year":1994,"gap":0},{"unit":"b","year":1995,"gap":-0.3},{"unit":"b","year":1996,"gap":-0.5},{"unit":"b","year":1997,"gap":-0.5},{"unit":"b","year":1998,"gap":-0.3},{"unit":"b","year":1999,"gap":0},{"unit":"b","year":2000,"gap":0},{"unit":"b","year":2001,"gap":2.2},{"unit":"b","year":2002,"gap":6.2},{"unit":"b","year":2003,"gap":10.5},{"unit":"b","year":2004,"gap":14.1},{"unit":"b","year":2005,"gap":16.5},{"unit":"b","year":2006,"gap":18.0},{"unit":"b","year":2007,"gap":19.0},{"unit":"b","year":2008,"gap":20.0},{"unit":"b","year":2009,"gap":20.6},
      {"unit":"c","year":1990,"gap":2.0},{"unit":"c","year":1991,"gap":1.5},{"unit":"c","year":1992,"gap":1.0},{"unit":"c","year":1993,"gap":0.5},{"unit":"c","year":1994,"gap":0},{"unit":"c","year":1995,"gap":-0.3},{"unit":"c","year":1996,"gap":-0.5},{"unit":"c","year":1997,"gap":-0.3},{"unit":"c","year":1998,"gap":0},{"unit":"c","year":1999,"gap":0.3},{"unit":"c","year":2000,"gap":0},{"unit":"c","year":2001,"gap":1.0},{"unit":"c","year":2002,"gap":2.2},{"unit":"c","year":2003,"gap":3.8},{"unit":"c","year":2004,"gap":5.4},{"unit":"c","year":2005,"gap":7.0},{"unit":"c","year":2006,"gap":8.9},{"unit":"c","year":2007,"gap":10.1},{"unit":"c","year":2008,"gap":11.7},{"unit":"c","year":2009,"gap":13.1},
      {"unit":"d","year":1990,"gap":-0.5},{"unit":"d","year":1991,"gap":-0.3},{"unit":"d","year":1992,"gap":0},{"unit":"d","year":1993,"gap":0.3},{"unit":"d","year":1994,"gap":0.5},{"unit":"d","year":1995,"gap":0.3},{"unit":"d","year":1996,"gap":0},{"unit":"d","year":1997,"gap":-0.3},{"unit":"d","year":1998,"gap":-0.2},{"unit":"d","year":1999,"gap":0},{"unit":"d","year":2000,"gap":0},{"unit":"d","year":2001,"gap":0.4},{"unit":"d","year":2002,"gap":0.8},{"unit":"d","year":2003,"gap":1.2},{"unit":"d","year":2004,"gap":1.6},{"unit":"d","year":2005,"gap":2.0},{"unit":"d","year":2006,"gap":2.4},{"unit":"d","year":2007,"gap":2.8},{"unit":"d","year":2008,"gap":3.2},{"unit":"d","year":2009,"gap":3.6},
      {"unit":"e","year":1990,"gap":4.4},{"unit":"e","year":1991,"gap":3.7},{"unit":"e","year":1992,"gap":3.0},{"unit":"e","year":1993,"gap":2.2},{"unit":"e","year":1994,"gap":1.4},{"unit":"e","year":1995,"gap":0.2},{"unit":"e","year":1996,"gap":-1.0},{"unit":"e","year":1997,"gap":-2.2},{"unit":"e","year":1998,"gap":-3.3},{"unit":"e","year":1999,"gap":-4.7},{"unit":"e","year":2000,"gap":-6.1},{"unit":"e","year":2001,"gap":-7.1},{"unit":"e","year":2002,"gap":-8.1},{"unit":"e","year":2003,"gap":-8.7},{"unit":"e","year":2004,"gap":-9.3},{"unit":"e","year":2005,"gap":-9.9},{"unit":"e","year":2006,"gap":-10.5},{"unit":"e","year":2007,"gap":-10.9},{"unit":"e","year":2008,"gap":-11.2},{"unit":"e","year":2009,"gap":-11.2},
      {"unit":"f","year":1990,"gap":0.3},{"unit":"f","year":1991,"gap":0.5},{"unit":"f","year":1992,"gap":0.3},{"unit":"f","year":1993,"gap":0},{"unit":"f","year":1994,"gap":-0.3},{"unit":"f","year":1995,"gap":-0.5},{"unit":"f","year":1996,"gap":-0.3},{"unit":"f","year":1997,"gap":0},{"unit":"f","year":1998,"gap":0.3},{"unit":"f","year":1999,"gap":0.5},{"unit":"f","year":2000,"gap":0},{"unit":"f","year":2001,"gap":-1.7},{"unit":"f","year":2002,"gap":-4.1},{"unit":"f","year":2003,"gap":-6.5},{"unit":"f","year":2004,"gap":-8.1},{"unit":"f","year":2005,"gap":-9.3},{"unit":"f","year":2006,"gap":-10.0},{"unit":"f","year":2007,"gap":-11.2},{"unit":"f","year":2008,"gap":-12.4},{"unit":"f","year":2009,"gap":-13.6},
      {"unit":"g","year":1990,"gap":5.4},{"unit":"g","year":1991,"gap":6.8},{"unit":"g","year":1992,"gap":8.0},{"unit":"g","year":1993,"gap":8.0},{"unit":"g","year":1994,"gap":-7.5},{"unit":"g","year":1995,"gap":0.5},{"unit":"g","year":1996,"gap":10.5},{"unit":"g","year":1997,"gap":6.0},{"unit":"g","year":1998,"gap":3.3},{"unit":"g","year":1999,"gap":6.0},{"unit":"g","year":2000,"gap":5.5},{"unit":"g","year":2001,"gap":3.8},{"unit":"g","year":2002,"gap":1.4},{"unit":"g","year":2003,"gap":-0.5},{"unit":"g","year":2004,"gap":-2.1},{"unit":"g","year":2005,"gap":-3.1},{"unit":"g","year":2006,"gap":-3.1},{"unit":"g","year":2007,"gap":-2.9},{"unit":"g","year":2008,"gap":-2.5},{"unit":"g","year":2009,"gap":-1.9},
      {"unit":"h","year":1990,"gap":7.5},{"unit":"h","year":1991,"gap":5.4},{"unit":"h","year":1992,"gap":3.0},{"unit":"h","year":1993,"gap":1.0},{"unit":"h","year":1994,"gap":-2.0},{"unit":"h","year":1995,"gap":-0.5},{"unit":"h","year":1996,"gap":8.2},{"unit":"h","year":1997,"gap":5.4},{"unit":"h","year":1998,"gap":3.4},{"unit":"h","year":1999,"gap":3.3},{"unit":"h","year":2000,"gap":1.5},{"unit":"h","year":2001,"gap":0.5},{"unit":"h","year":2002,"gap":0},{"unit":"h","year":2003,"gap":-0.5},{"unit":"h","year":2004,"gap":-1.0},{"unit":"h","year":2005,"gap":-1.3},{"unit":"h","year":2006,"gap":-1.5},{"unit":"h","year":2007,"gap":-1.6},{"unit":"h","year":2008,"gap":-1.7},{"unit":"h","year":2009,"gap":-1.8},
      {"unit":"i","year":1990,"gap":-3.3},{"unit":"i","year":1991,"gap":-3.3},{"unit":"i","year":1992,"gap":-3.3},{"unit":"i","year":1993,"gap":-3.2},{"unit":"i","year":1994,"gap":-3.2},{"unit":"i","year":1995,"gap":-3.2},{"unit":"i","year":1996,"gap":-3.3},{"unit":"i","year":1997,"gap":-3.3},{"unit":"i","year":1998,"gap":-3.4},{"unit":"i","year":1999,"gap":-3.4},{"unit":"i","year":2000,"gap":-3.5},{"unit":"i","year":2001,"gap":-3.5},{"unit":"i","year":2002,"gap":-3.5},{"unit":"i","year":2003,"gap":-3.6},{"unit":"i","year":2004,"gap":-3.6},{"unit":"i","year":2005,"gap":-3.6},{"unit":"i","year":2006,"gap":-3.7},{"unit":"i","year":2007,"gap":-3.7},{"unit":"i","year":2008,"gap":-3.7},{"unit":"i","year":2009,"gap":-3.7},
      {"unit":"j","year":1990,"gap":0},{"unit":"j","year":1991,"gap":1.0},{"unit":"j","year":1992,"gap":2.6},{"unit":"j","year":1993,"gap":3.6},{"unit":"j","year":1994,"gap":0.5},{"unit":"j","year":1995,"gap":-1.0},{"unit":"j","year":1996,"gap":-1.5},{"unit":"j","year":1997,"gap":-1.8},{"unit":"j","year":1998,"gap":-1.0},{"unit":"j","year":1999,"gap":0.5},{"unit":"j","year":2000,"gap":0},{"unit":"j","year":2001,"gap":0.3},{"unit":"j","year":2002,"gap":0.5},{"unit":"j","year":2003,"gap":0.6},{"unit":"j","year":2004,"gap":0.7},{"unit":"j","year":2005,"gap":0.8},{"unit":"j","year":2006,"gap":0.9},{"unit":"j","year":2007,"gap":1.0},{"unit":"j","year":2008,"gap":1.0},{"unit":"j","year":2009,"gap":1.1},
      {"unit":"k","year":1990,"gap":2.8},{"unit":"k","year":1991,"gap":2.5},{"unit":"k","year":1992,"gap":2.0},{"unit":"k","year":1993,"gap":1.2},{"unit":"k","year":1994,"gap":0.5},{"unit":"k","year":1995,"gap":-0.3},{"unit":"k","year":1996,"gap":-1.0},{"unit":"k","year":1997,"gap":-1.5},{"unit":"k","year":1998,"gap":-0.8},{"unit":"k","year":1999,"gap":0},{"unit":"k","year":2000,"gap":0},{"unit":"k","year":2001,"gap":-0.3},{"unit":"k","year":2002,"gap":-0.6},{"unit":"k","year":2003,"gap":-1.0},{"unit":"k","year":2004,"gap":-1.5},{"unit":"k","year":2005,"gap":-2.0},{"unit":"k","year":2006,"gap":-2.5},{"unit":"k","year":2007,"gap":-2.8},{"unit":"k","year":2008,"gap":-3.0},{"unit":"k","year":2009,"gap":-3.2}
    ]
  },
  "vconcat": [
    {
      "bounds": "flush",
      "spacing": 96,
      "resolve": {"scale": {"x": "independent", "y": "independent", "strokeDash": "independent"}, "legend": {"strokeDash": "independent"}},
      "hconcat": [
        {
          "width": 330, "height": 303, "title": "Guatemala (1986)",
          "layer": [
            {"data": {"name": "top_gt"}, "mark": {"type": "line", "color": "black", "strokeWidth": 1.8},
             "encoding": {
               "x": {"field": "year", "type": "quantitative", "scale": {"domain": [1973.61, 1997.45], "nice": false, "zero": false}, "axis": {"values": [1975, 1980, 1985, 1990, 1995], "title": "year", "labelExpr": "'' + datum.value"}},
               "y": {"field": "value", "type": "quantitative", "scale": {"domain": [55.13, 147.39], "nice": false, "zero": false}, "axis": {"values": [60, 80, 100, 120, 140], "title": "Under 5 Mortality Rate", "labelPadding": 17, "labelExpr": "'' + datum.value"}},
               "strokeDash": {"field": "series", "type": "nominal", "scale": {"domain": ["treated", "synth."], "range": [[1, 0], [24, 11]]}, "legend": {"title": null, "orient": "none", "legendX": 10, "legendY": 375, "padding": 12, "columnPadding": 6, "symbolSize": 3600}}
             }},
            {"data": {"values": [{"year": 1986}]}, "mark": {"type": "rule", "color": "black", "strokeWidth": 2, "strokeDash": [10, 6]},
             "encoding": {"x": {"field": "year", "type": "quantitative"}}}
          ]
        },
        {
          "width": 347, "height": 303, "title": "Mexico (1994)",
          "layer": [
            {"data": {"name": "top_mx"}, "mark": {"type": "line", "color": "black", "strokeWidth": 1.8},
             "encoding": {
               "x": {"field": "year", "type": "quantitative", "scale": {"domain": [1982.69, 2006.31], "nice": false, "zero": false}, "axis": {"values": [1985, 1990, 1995, 2000, 2005], "title": "year", "labelExpr": "'' + datum.value"}},
               "y": {"field": "value", "type": "quantitative", "scale": {"domain": [17.55, 64.08], "nice": false, "zero": false}, "axis": {"values": [20, 30, 40, 50, 60], "title": null, "labelExpr": "'' + datum.value"}},
               "strokeDash": {"field": "series", "type": "nominal", "scale": {"domain": ["treated", "synth."], "range": [[1, 0], [24, 11]]}, "legend": {"title": null, "orient": "none", "legendX": 10.7, "legendY": 375}}
             }},
            {"data": {"values": [{"year": 1994}]}, "mark": {"type": "rule", "color": "black", "strokeWidth": 2, "strokeDash": [10, 6]},
             "encoding": {"x": {"field": "year", "type": "quantitative"}}}
          ]
        },
        {
          "width": 347, "height": 303, "title": "Cape Verde (1991)",
          "layer": [
            {"data": {"name": "top_cv"}, "mark": {"type": "line", "color": "black", "strokeWidth": 1.8},
             "encoding": {
               "x": {"field": "year", "type": "quantitative", "scale": {"domain": [1978.64, 2002.27], "nice": false, "zero": false}, "axis": {"values": [1980, 1985, 1990, 1995, 2000], "title": "year", "labelExpr": "'' + datum.value"}},
               "y": {"field": "value", "type": "quantitative", "scale": {"domain": [32.32, 93.13], "nice": false, "zero": false}, "axis": {"values": [40, 50, 60, 70, 80, 90], "title": null, "labelExpr": "'' + datum.value"}},
               "strokeDash": {"field": "series", "type": "nominal", "scale": {"domain": ["treated", "synth."], "range": [[1, 0], [24, 11]]}, "legend": {"title": null, "orient": "none", "legendX": 10.3, "legendY": 375}}
             }},
            {"data": {"values": [{"year": 1991}]}, "mark": {"type": "rule", "color": "black", "strokeWidth": 2, "strokeDash": [10, 6]},
             "encoding": {"x": {"field": "year", "type": "quantitative"}}}
          ]
        },
        {
          "width": 347, "height": 303, "title": "Senegal (2000)",
          "layer": [
            {"data": {"name": "top_sn"}, "mark": {"type": "line", "color": "black", "strokeWidth": 1.8},
             "encoding": {
               "x": {"field": "year", "type": "quantitative", "scale": {"domain": [1988.75, 2011.25], "nice": false, "zero": false}, "axis": {"values": [1990, 1995, 2000, 2005, 2010], "title": "year", "labelExpr": "'' + datum.value"}},
               "y": {"field": "value", "type": "quantitative", "scale": {"domain": [54.9, 151.9], "nice": false, "zero": false}, "axis": {"values": [60, 80, 100, 120, 140], "title": null, "labelExpr": "'' + datum.value"}},
               "strokeDash": {"field": "series", "type": "nominal", "scale": {"domain": ["treated", "synth."], "range": [[1, 0], [24, 11]]}, "legend": {"title": null, "orient": "none", "legendX": 10, "legendY": 375}}
             }},
            {"data": {"values": [{"year": 2000}]}, "mark": {"type": "rule", "color": "black", "strokeWidth": 2, "strokeDash": [10, 6]},
             "encoding": {"x": {"field": "year", "type": "quantitative"}}}
          ]
        }
      ]
    },
    {
      "bounds": "flush",
      "spacing": 115,
      "resolve": {"scale": {"x": "independent", "y": "independent"}},
      "hconcat": [
        {
          "width": 328, "height": 367, "title": "Placebo Guatemala",
          "layer": [
            {"data": {"name": "pl_gt"}, "transform": [{"filter": "datum.unit !== 'T'"}], "mark": {"type": "line", "color": "black", "strokeWidth": 1.3},
             "encoding": {
               "x": {"field": "year", "type": "quantitative", "scale": {"domain": [1973.61, 1996.37], "nice": false, "zero": false}, "axis": {"values": [1975, 1980, 1985, 1990, 1995], "title": "year", "labelExpr": "'' + datum.value"}},
               "y": {"field": "gap", "type": "quantitative", "scale": {"domain": [-61.1, 211.1], "nice": false, "zero": false}, "axis": {"values": [-50, 0, 50, 100, 150, 200], "title": "Under 5 Mortality Rate", "titleOpacity": 0, "titlePadding": 25.3, "labelExpr": "'' + datum.value"}},
               "detail": {"field": "unit", "type": "nominal"}
             }},
            {"data": {"name": "pl_gt"}, "transform": [{"filter": "datum.unit === 'T'"}], "mark": {"type": "line", "color": "black", "strokeWidth": 5, "strokeCap": "round", "strokeJoin": "round"},
             "encoding": {"x": {"field": "year", "type": "quantitative"}, "y": {"field": "gap", "type": "quantitative"}}},
            {"data": {"values": [{"year": 1986, "gap": 0}]}, "mark": {"type": "rule", "color": "black", "strokeWidth": 3},
             "encoding": {"x": {"field": "year", "type": "quantitative"}}},
            {"data": {"values": [{"year": 1986, "gap": 0}]}, "mark": {"type": "rule", "color": "black", "strokeWidth": 3},
             "encoding": {"y": {"field": "gap", "type": "quantitative"}}}
          ]
        },
        {
          "width": 328, "height": 367, "title": "Placebo Mexico",
          "layer": [
            {"data": {"name": "pl_mx"}, "transform": [{"filter": "datum.unit !== 'T'"}], "mark": {"type": "line", "color": "black", "strokeWidth": 1.3},
             "encoding": {
               "x": {"field": "year", "type": "quantitative", "scale": {"domain": [1982.66, 2006.39], "nice": false, "zero": false}, "axis": {"values": [1985, 1990, 1995, 2000, 2005], "title": "year", "labelExpr": "'' + datum.value"}},
               "y": {"field": "gap", "type": "quantitative", "scale": {"domain": [-24.6, 88.4], "nice": false, "zero": false}, "axis": {"values": [-20, 0, 20, 40, 60, 80], "title": null, "labelExpr": "'' + datum.value"}},
               "detail": {"field": "unit", "type": "nominal"}
             }},
            {"data": {"name": "pl_mx"}, "transform": [{"filter": "datum.unit === 'T'"}], "mark": {"type": "line", "color": "black", "strokeWidth": 5, "strokeCap": "round", "strokeJoin": "round"},
             "encoding": {"x": {"field": "year", "type": "quantitative"}, "y": {"field": "gap", "type": "quantitative"}}},
            {"data": {"values": [{"year": 1994, "gap": 0}]}, "mark": {"type": "rule", "color": "black", "strokeWidth": 3},
             "encoding": {"x": {"field": "year", "type": "quantitative"}}},
            {"data": {"values": [{"year": 1994, "gap": 0}]}, "mark": {"type": "rule", "color": "black", "strokeWidth": 3},
             "encoding": {"y": {"field": "gap", "type": "quantitative"}}}
          ]
        },
        {
          "width": 328, "height": 367, "title": "Placebo Cape Verde",
          "layer": [
            {"data": {"name": "pl_cv"}, "transform": [{"filter": "datum.unit !== 'T'"}], "mark": {"type": "line", "color": "black", "strokeWidth": 1.3},
             "encoding": {
               "x": {"field": "year", "type": "quantitative", "scale": {"domain": [1978.69, 2001.33], "nice": false, "zero": false}, "axis": {"values": [1980, 1985, 1990, 1995, 2000], "title": "year", "labelExpr": "'' + datum.value"}},
               "y": {"field": "gap", "type": "quantitative", "scale": {"domain": [-107.5, 66.9], "nice": false, "zero": false}, "axis": {"values": [-100, -50, 0, 50], "title": null, "labelExpr": "'' + datum.value"}},
               "detail": {"field": "unit", "type": "nominal"}
             }},
            {"data": {"name": "pl_cv"}, "transform": [{"filter": "datum.unit === 'T'"}], "mark": {"type": "line", "color": "black", "strokeWidth": 5, "strokeCap": "round", "strokeJoin": "round"},
             "encoding": {"x": {"field": "year", "type": "quantitative"}, "y": {"field": "gap", "type": "quantitative"}}},
            {"data": {"values": [{"year": 1991, "gap": 0}]}, "mark": {"type": "rule", "color": "black", "strokeWidth": 3},
             "encoding": {"x": {"field": "year", "type": "quantitative"}}},
            {"data": {"values": [{"year": 1991, "gap": 0}]}, "mark": {"type": "rule", "color": "black", "strokeWidth": 3},
             "encoding": {"y": {"field": "gap", "type": "quantitative"}}}
          ]
        },
        {
          "width": 328, "height": 367, "title": "Placebo Senegal",
          "layer": [
            {"data": {"name": "pl_sn"}, "transform": [{"filter": "datum.unit !== 'T'"}], "mark": {"type": "line", "color": "black", "strokeWidth": 1.3},
             "encoding": {
               "x": {"field": "year", "type": "quantitative", "scale": {"domain": [1988.66, 2011.34], "nice": false, "zero": false}, "axis": {"values": [1990, 1995, 2000, 2005, 2010], "title": "year", "labelExpr": "'' + datum.value"}},
               "y": {"field": "gap", "type": "quantitative", "scale": {"domain": [-43.73, 43.56], "nice": false, "zero": false}, "axis": {"values": [-40, -20, 0, 20, 40], "title": null, "labelExpr": "'' + datum.value"}},
               "detail": {"field": "unit", "type": "nominal"}
             }},
            {"data": {"name": "pl_sn"}, "transform": [{"filter": "datum.unit === 'T'"}], "mark": {"type": "line", "color": "black", "strokeWidth": 5, "strokeCap": "round", "strokeJoin": "round"},
             "encoding": {"x": {"field": "year", "type": "quantitative"}, "y": {"field": "gap", "type": "quantitative"}}},
            {"data": {"values": [{"year": 2000, "gap": 0}]}, "mark": {"type": "rule", "color": "black", "strokeWidth": 3},
             "encoding": {"x": {"field": "year", "type": "quantitative"}}},
            {"data": {"values": [{"year": 2000, "gap": 0}]}, "mark": {"type": "rule", "color": "black", "strokeWidth": 3},
             "encoding": {"y": {"field": "gap", "type": "quantitative"}}}
          ]
        }
      ]
    }
  ]
}
